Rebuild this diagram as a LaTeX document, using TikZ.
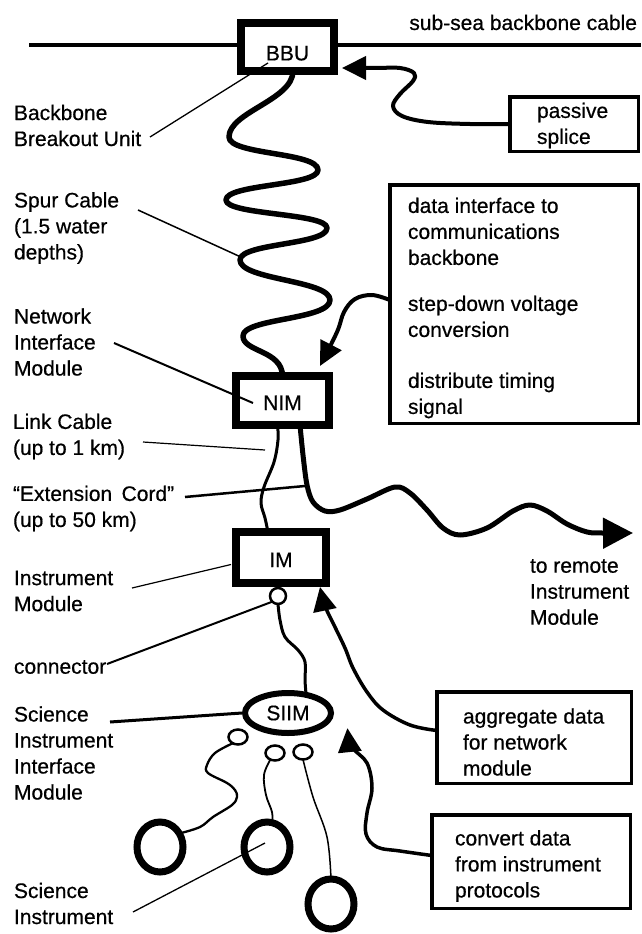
\documentclass[tikz,border=0pt]{standalone}
\usepackage{fontspec}
\setmainfont{Liberation Sans}[FakeBold=0.5]
\usetikzlibrary{arrows.meta,shapes.geometric,calc}
\begin{document}
\begin{tikzpicture}[x=1pt,y=-1pt,
  every node/.style={font=\fontsize{21}{26}\selectfont, inner sep=0pt, outer sep=0pt},
  lbl/.style={anchor=west, align=left},
  modbox/.style={draw, line width=8pt, fill=white},
  txtbox/.style={draw, line width=3.5pt},
  bigc/.style={draw, ellipse, line width=7pt, minimum width=46pt, minimum height=50pt},
  smallc/.style={draw, ellipse, line width=2.5pt, fill=white, minimum width=19pt, minimum height=15pt},
  ldr/.style={line width=#1},
  ldr/.default=1.3pt,
  cbl/.style={line width=#1, line join=round, line cap=round},
  bigarrow/.style={line width=4pt, line join=round, -{Triangle[length=24pt,width=23pt]}}
]
\fill[white] (0,0) rectangle (641,934);
\useasboundingbox (0,0) rectangle (641,934);

% backbone cable
\coordinate (bbL) at (29,45);
\coordinate (bbR) at (641,45);
\draw[line width=4.5pt] (bbL) -- (bbR);

% modules
\node[modbox, minimum width=93pt, minimum height=48pt, text height=27pt] (BBU) at (287.5,47) {BBU};
\node[modbox, minimum width=93pt, minimum height=49pt, text height=19pt] (NIM) at (282.5,400.5) {NIM};
\node[modbox, minimum width=90pt, minimum height=51pt, text height=19pt] (IM) at (281,557.5) {IM};
\node[draw, circle, line width=2.5pt, fill=white, minimum size=16pt] (conn) at (278,596) {};
\node[draw, ellipse, line width=6pt, fill=white, minimum width=86pt, minimum height=40pt] (SIIM) at (288,713) {SIIM};
\node[smallc] (sc1) at (238,737) {};
\node[smallc] (sc2) at (275,753) {};
\node[smallc] (sc3) at (303,752) {};
\node[bigc] (inst1) at (160,847) {};
\node[bigc] (inst2) at (267,847) {};
\node[bigc] (inst3) at (331,904) {};

% text boxes
\node[txtbox, minimum width=128.5pt, minimum height=54.5pt] (passive) at (574,124) {};
\node[txtbox, minimum width=248.5pt, minimum height=238.5pt] (data) at (514,304) {};
\node[txtbox, minimum width=194.5pt, minimum height=91.5pt] (agg) at (534,737.5) {};
\node[txtbox, minimum width=198.5pt, minimum height=93.5pt] (conv) at (531,861.5) {};

% texts in boxes and right column
\node[anchor=base east] (subsea) at (637,30) {sub-sea backbone cable};
\node[lbl] (passivet) at (537,125.5) {passive\\splice};
\node[lbl] (datat) at (408,308) {data interface to\\communications\\backbone\\[20pt]step-down voltage\\conversion\\[25pt]distribute timing\\signal};
\node[lbl] (remotet) at (530,592) {to remote\\Instrument\\Module};
\node[lbl] (aggt) at (463,742) {aggregate data\\for network\\module};
\node[lbl] (convt) at (455,866) {convert data\\from instrument\\protocols};

% left labels
\node[lbl] (lblBBU) at (14,125.5) {Backbone\\Breakout Unit};
\node[lbl] (lblSpur) at (14,228) {Spur Cable\\(1.5 water\\depths)};
\node[lbl] (lblNIM) at (14,342) {Network\\Interface\\Module};
\node[lbl] (lblLink) at (13,436.5) {Link Cable\\(up to 1 km)};
\node[lbl] (lblExt) at (13,508.5) {“Extension\hspace{0.45em}Cord”\\(up to 50 km)};
\node[lbl] (lblIM) at (14,591) {Instrument\\Module};
\node[lbl] (lblConn) at (14,667) {connector};
\node[lbl] (lblSIIM) at (14,753) {Science\\Instrument\\Interface\\Module};
\node[lbl] (lblSci) at (14,903.5) {Science\\Instrument};

% spur cable
\draw[cbl=5.5pt] ($(BBU.south)+(5.5,0)$) .. controls (293,100) and (229,112) .. (229,137)
  .. controls (229,155) and (318,152) .. (318,170)
  .. controls (318,186) and (226,184) .. (226,200)
  .. controls (226,215) and (327,213) .. (327,228)
  .. controls (327,245) and (240,243) .. (240,260)
  .. controls (240,280) and (330,280) .. (330,300)
  .. controls (330,320) and (243,318) .. (243,336)
  .. controls (243,352) and (282,350) .. (NIM.north);

% link cable
\draw[cbl=3pt] plot[smooth, tension=0.6] coordinates {($(NIM.south)+(-5,0)$) (278,440) (274,462) (264,487) (261,503) (265,518) ($(IM.north)+(-13,0)$)};

% extension cord
\coordinate (remote) at (633,533);
\draw[line width=5pt, line join=round, -{Triangle[length=30pt,width=30pt]}] plot[smooth, tension=0.55] coordinates {($(NIM.south)+(17.5,0)$) (303,455) (307,485) (313,502) (325,511) (340,510) (367,499) (395,487) (410,493) (427,510) (443,528) (460,535) (487,528) (513,511) (530,505) (547,511) (567,524) (587,532) (603,533) (remote)};

% connector to SIIM
\draw[cbl=3pt] plot[smooth, tension=0.6] coordinates {(conn.south) (280,620) (285,637) (298,650) (305,662) (305,680) (SIIM.45)};

% instrument cables
\draw[cbl=2.3pt] plot[smooth, tension=0.6] coordinates {(sc1.230) (215,753) (207,765) (208,773) (227,783) (235,790) (237,797) (232,805) (213,817) (200,827) (inst1.35)};
\draw[cbl=1.8pt] plot[smooth, tension=0.6] coordinates {(sc2.235) (264,775) (266,795) (272,812) (inst2.78)};
\draw[cbl=1.5pt] plot[smooth, tension=0.6] coordinates {(sc3.south) (313,797) (327,837) (inst3.north)};

% annotation arrows
\draw[bigarrow] plot[smooth, tension=0.6] coordinates {(passive.west) (470,124) (428,122) (402,116) (393,106) (400,94) (413,81) (414,73) (400,68) (375,68) ($(BBU.south east)+(8,-3)$)};
\draw[bigarrow] plot[smooth, tension=0.6] coordinates {($(data.west)+(0,-4)$) (372,295) (355,299) (344,312) (337,332) ($(NIM.north east)+(-9,-10)$)};
\draw[bigarrow, line width=3.5pt] plot[smooth, tension=0.6] coordinates {($(agg.west)+(0,-7)$) (410,725) (383,710) (367,692) (353,668) (345,648) (334,625) (325,606) ($(IM.south east)+(-6,4)$)};
\draw[bigarrow, line width=3.5pt] plot[smooth, tension=0.6] coordinates {($(conv.west)+(0,-6)$) (400,851) (377,847) (366,834) (367,813) (372,788) (367,763) (352,747) ($(SIIM.south east)+(29,1)$)};

% leader lines
\coordinate (bbuA) at (150,137);
\draw[ldr] (bbuA) -- ($(BBU.south west)+(27,-8)$);
\coordinate (spA) at (138,210);
\coordinate (spB) at (243,258);
\draw[ldr=1.5pt] (spA) -- (spB);
\coordinate (nimA) at (114,343);
\draw[ldr=2pt] (nimA) -- ($(NIM.west)+(17,2.5)$);
\coordinate (lkA) at (143,442);
\coordinate (lkB) at (265,450);
\draw[ldr=1.2pt] (lkA) -- (lkB);
\coordinate (exA) at (185,497);
\coordinate (exB) at (305,486);
\draw[ldr=2.5pt] (exA) -- (exB);
\coordinate (imA) at (132,588);
\draw[ldr=1.2pt] (imA) -- ($(IM.west)+(-5,7)$);
\coordinate (cnA) at (107,664);
\draw[ldr=2pt] (cnA) -- (conn.south west);
\coordinate (siA) at (110,722);
\draw[ldr=3pt] (siA) -- ($(SIIM.west)+(-3,0)$);
\coordinate (scA) at (133,912);
\draw[ldr] (scA) -- ($(inst2.center)+(-2,-4)$);
\end{tikzpicture}
\end{document}
